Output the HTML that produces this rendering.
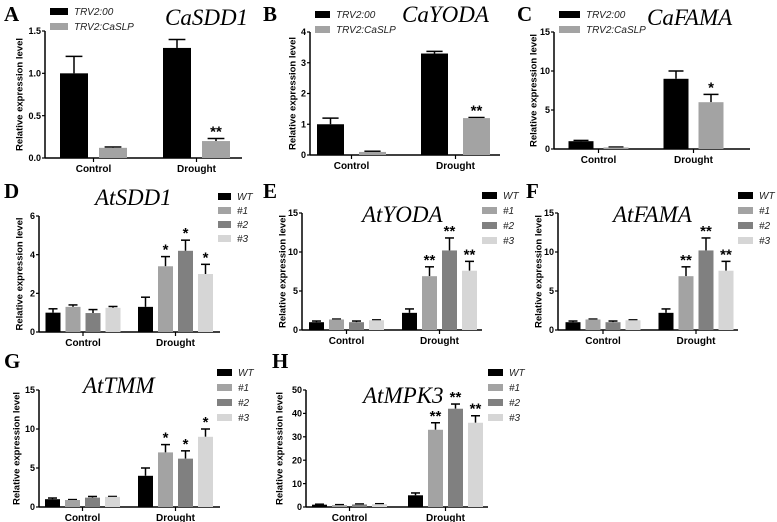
<!DOCTYPE html>
<html><head><meta charset="utf-8"><style>
body{margin:0;background:#fff;}
svg{display:block;font-family:"Liberation Sans",sans-serif;}
.tick{font-size:9px;font-weight:bold;}
.cat{font-size:10px;font-weight:bold;}
.ytitle{font-size:9.5px;font-weight:bold;}
.ttl{font-family:"Liberation Serif",serif;font-style:italic;font-size:23px;}
.leg{font-size:10px;font-style:italic;fill:#222;}
.lab{font-family:"Liberation Serif",serif;font-weight:bold;font-size:21px;}
.star{font-size:15px;font-weight:bold;}
</style></head><body>
<svg id="fig" width="777" height="522"></svg>
<script>
const categories = ["Control","Drought"];
// Panel A
const aCtrl=[1.0,0.12], aCtrlErr=[0.2,0.01], aDrought=[1.3,0.2], aDroughtErr=[0.1,0.03], aStars=["","**"];
// Panel B
const bCtrl=[1.0,0.1], bCtrlErr=[0.2,0.02], bDrought=[3.3,1.2], bDroughtErr=[0.07,0.02], bStars=["","**"];
// Panel C
const cCtrl=[1.0,0.2], cCtrlErr=[0.1,0.05], cDrought=[9.0,6.0], cDroughtErr=[1.0,1.0], cStars=["","*"];
// Panel D
const dCtrl=[1.0,1.3,0.98,1.25], dCtrlErr=[0.2,0.1,0.18,0.07], dDrought=[1.3,3.4,4.2,3.0], dDroughtErr=[0.5,0.5,0.55,0.5], dStars=["","*","*","*"];
// Panel E
const eCtrl=[1.0,1.35,1.0,1.25], eCtrlErr=[0.15,0.05,0.15,0.05], eDrought=[2.2,6.9,10.2,7.6], eDroughtErr=[0.5,1.2,1.6,1.2], eStars=["","**","**","**"];
// Panel F
const fCtrl=[1.0,1.35,1.0,1.25], fCtrlErr=[0.15,0.05,0.15,0.05], fDrought=[2.2,6.9,10.2,7.6], fDroughtErr=[0.5,1.2,1.6,1.2], fStars=["","**","**","**"];
// Panel G
const gCtrl=[1.0,0.9,1.2,1.3], gCtrlErr=[0.15,0.05,0.15,0.05], gDrought=[4.0,7.0,6.2,9.0], gDroughtErr=[1.0,1.0,1.0,1.0], gStars=["","*","*","*"];
// Panel H
const hCtrl=[1.0,0.8,1.1,1.2], hCtrlErr=[0.2,0.2,0.2,0.2], hDrought=[5.0,33,42,36], hDroughtErr=[1.0,3.0,2.0,3.0], hStars=["","**","**","**"];
const ticksA=[0,0.5,1.0,1.5], ticksB=[0,1,2,3,4], ticks15=[0,5,10,15], ticksD=[0,2,4,6], ticksH=[0,10,20,30,40,50];
const legend2=["TRV2:00","TRV2:CaSLP"], legend4=["WT","#1","#2","#3"];

const colors2=["#000","#a3a3a3"], colors4=["#000","#a3a3a3","#808080","#d6d6d6"];
const NS="http://www.w3.org/2000/svg", svg=document.getElementById('fig');
function mk(tag,attrs,parent,text){const e=document.createElementNS(NS,tag);for(const k in attrs)e.setAttribute(k,attrs[k]);if(text!==undefined)e.textContent=text;(parent||svg).appendChild(e);return e;}

const panels=[
 {id:"a",letter:"A",lx:4,ly:21,ctrl:aCtrl,ce:aCtrlErr,dr:aDrought,de:aDroughtErr,st:aStars,ticks:ticksA,dec:1,x0:45,x1:242,yT:31,y0:158,c0:93.5,sp:103,bw:28,step:39,yt:19,title:"CaSDD1",tx:165,ty:25,leg:legend2,lgx:50,lgy:8,lgs:15,sw:18,col:colors2},
 {id:"b",letter:"B",lx:263,ly:21,ctrl:bCtrl,ce:bCtrlErr,dr:bDrought,de:bDroughtErr,st:bStars,ticks:ticksB,dec:0,x0:310,x1:500,yT:32,y0:155,c0:351.5,sp:104,bw:27,step:42,yt:292,title:"CaYODA",tx:402,ty:22,leg:legend2,lgx:315,lgy:11,lgs:15,sw:15,col:colors2},
 {id:"c",letter:"C",lx:517,ly:21,ctrl:cCtrl,ce:cCtrlErr,dr:cDrought,de:cDroughtErr,st:cStars,ticks:ticks15,dec:0,x0:554,x1:750,yT:32,y0:149,c0:598.5,sp:95,bw:25,step:35,yt:533,title:"CaFAMA",tx:647,ty:25,leg:legend2,lgx:559,lgy:11,lgs:15,sw:21,col:colors2},
 {id:"d",letter:"D",lx:4,ly:198,ctrl:dCtrl,ce:dCtrlErr,dr:dDrought,de:dDroughtErr,st:dStars,ticks:ticksD,dec:0,x0:39,x1:220,yT:216,y0:332,c0:83,sp:92.5,bw:15,step:20,yt:19,title:"AtSDD1",tx:95,ty:205,leg:legend4,lgx:218,lgy:193,lgs:14,sw:13,col:colors4},
 {id:"e",letter:"E",lx:263,ly:198,ctrl:eCtrl,ce:eCtrlErr,dr:eDrought,de:eDroughtErr,st:eStars,ticks:ticks15,dec:0,x0:302,x1:482,yT:213,y0:330,c0:346.5,sp:93,bw:15,step:20,yt:282,title:"AtYODA",tx:362,ty:222,leg:legend4,lgx:482,lgy:192,lgs:15,sw:15,col:colors4},
 {id:"f",letter:"F",lx:526,ly:198,ctrl:fCtrl,ce:fCtrlErr,dr:fDrought,de:fDroughtErr,st:fStars,ticks:ticks15,dec:0,x0:558,x1:738,yT:213,y0:330,c0:603,sp:93,bw:15,step:20,yt:538,title:"AtFAMA",tx:613,ty:222,leg:legend4,lgx:738,lgy:192,lgs:15,sw:15,col:colors4},
 {id:"g",letter:"G",lx:4,ly:368,ctrl:gCtrl,ce:gCtrlErr,dr:gDrought,de:gDroughtErr,st:gStars,ticks:ticks15,dec:0,x0:39,x1:220,yT:390,y0:507,c0:82.5,sp:93,bw:15,step:20,yt:16,title:"AtTMM",tx:83,ty:393,leg:legend4,lgx:217,lgy:369,lgs:15,sw:15,col:colors4},
 {id:"h",letter:"H",lx:272,ly:368,ctrl:hCtrl,ce:hCtrlErr,dr:hDrought,de:hDroughtErr,st:hStars,ticks:ticksH,dec:0,x0:306,x1:488,yT:390,y0:507,c0:349.5,sp:96,bw:15,step:20,yt:279,title:"AtMPK3",tx:363,ty:403,leg:legend4,lgx:488,lgy:369,lgs:15,sw:15,col:colors4}
];

panels.forEach(p=>{
 const g=mk('g',{});
 
 
 const ymax=p.ticks[p.ticks.length-1];
 const y=v=>p.y0-(v/ymax)*(p.y0-p.yT);
 const lab=mk('text',{x:p.lx,y:p.ly,class:'lab'},g,p.letter);
 
 
 const ttl=mk('text',{x:p.tx,y:p.ty,class:'ttl'},g,p.title);
 
 
 const ya=mk('line',{x1:p.x0,y1:p.yT,x2:p.x0,y2:p.y0,stroke:'#000','stroke-width':1.5},g);
 
 
 const xa=mk('line',{x1:p.x0,y1:p.y0,x2:p.x1,y2:p.y0,stroke:'#000','stroke-width':1.5},g);
 
 
 p.ticks.forEach(t=>{
  mk('line',{x1:p.x0-3,y1:y(t),x2:p.x0,y2:y(t),stroke:'#000','stroke-width':1.2},g);
  const tl=mk('text',{x:p.x0-4,y:y(t)+3.2,class:'tick','text-anchor':'end'},g,t.toFixed(p.dec));
  
  
 });
 const yt=mk('text',{x:p.yt,y:(p.yT+p.y0)/2,class:'ytitle','text-anchor':'middle',transform:`rotate(-90 ${p.yt} ${(p.yT+p.y0)/2})`,dy:'0.35em'},g,'Relative expression level');
 
 
 const n=p.ctrl.length;
 [[p.ctrl,p.ce,null],[p.dr,p.de,p.st]].forEach((grp,ci)=>{
  const c=p.c0+ci*p.sp;
  mk('line',{x1:c,y1:p.y0,x2:c,y2:p.y0+4,stroke:'#000','stroke-width':1.2},g);
  const cl=mk('text',{x:c,y:p.y0+14,class:'cat','text-anchor':'middle'},g,categories[ci]);
  
  
  grp[0].forEach((v,i)=>{
   const bx=c-((n-1)*p.step)/2+i*p.step-p.bw/2;
   const top=y(v), et=y(v+grp[1][i]);
   const eb=mk('line',{x1:bx+p.bw/2,y1:top,x2:bx+p.bw/2,y2:et,stroke:'#000','stroke-width':1.5},g);
   
   
   mk('line',{x1:bx+p.bw/2-p.bw*0.3,y1:et,x2:bx+p.bw/2+p.bw*0.3,y2:et,stroke:'#000','stroke-width':1.5},g);
   const r=mk('rect',{x:bx,y:top,width:p.bw,height:p.y0-top,fill:p.col[i]},g);
   
   
   if(grp[2]&&grp[2][i]){
    const s=mk('text',{x:bx+p.bw/2,y:et-2,class:'star','text-anchor':'middle'},g,grp[2][i]);
    
    
   }
  });
 });
 p.leg.forEach((l,i)=>{
  const ly=p.lgy+i*p.lgs;
  const sw=mk('rect',{x:p.lgx,y:ly,width:p.sw,height:7,fill:p.col[i]},g);
  
  
  const lt=mk('text',{x:p.lgx+p.sw+6,y:ly+7,class:'leg'},g,l);
  
  
 });
});
</script>
</body></html>
